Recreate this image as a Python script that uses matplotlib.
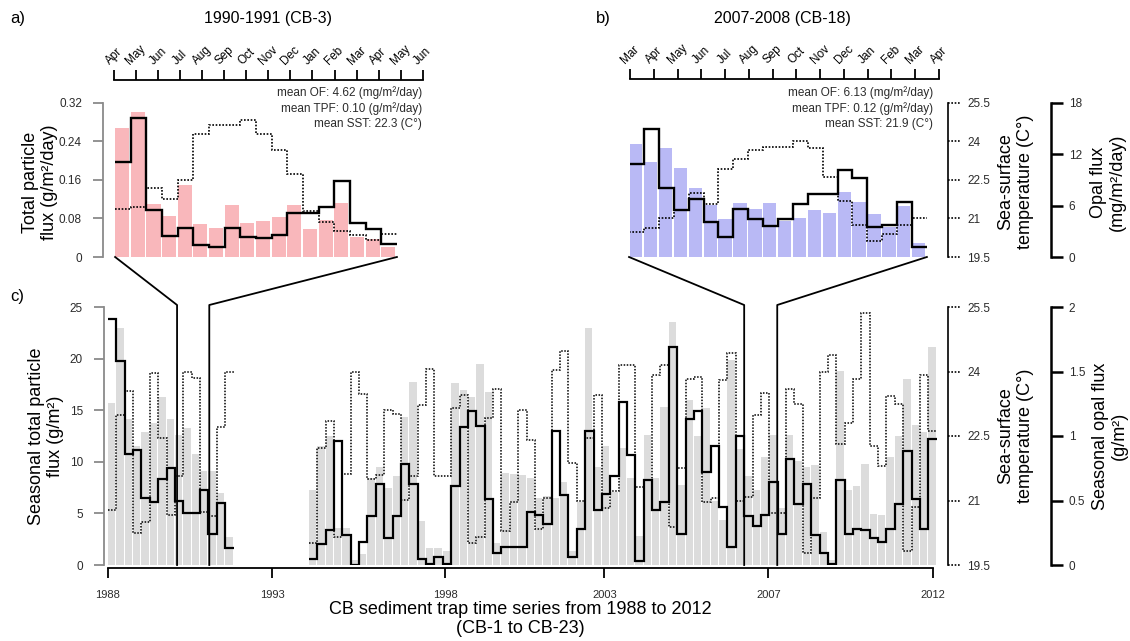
import numpy as np
import matplotlib
matplotlib.use('Agg')
import matplotlib.pyplot as plt
from matplotlib.lines import Line2D
from matplotlib.transforms import blended_transform_factory

plt.rcParams['font.family'] = ['Liberation Sans', 'DejaVu Sans']

# ---------------- data ----------------
# a) 1990-1991 (CB-3), one value per sampling cup
months_a = ['Apr', 'May', 'Jun', 'Jul', 'Aug', 'Sep', 'Oct', 'Nov', 'Dec',
            'Jan', 'Feb', 'Mar', 'Apr', 'May', 'Jun']
a_tpf = [0.268, 0.301, 0.109, 0.085, 0.149, 0.069, 0.061, 0.107, 0.071,
         0.074, 0.082, 0.107, 0.059, 0.076, 0.112, 0.042, 0.037, 0.020]
a_opal = [11.1, 16.2, 5.5, 2.45, 3.35, 1.4, 1.13, 3.35, 2.3, 2.18, 2.57,
          5.1, 5.1, 5.8, 8.9, 4.0, 3.23, 1.52]
a_sst = [21.35, 21.45, 22.2, 21.77, 22.49, 24.3, 24.65, 24.65, 24.83, 24.27,
         23.66, 22.72, 21.29, 20.86, 20.51, 20.35, 20.15, 20.38]

# b) 2007-2008 (CB-18)
months_b = ['Mar', 'Apr', 'May', 'Jun', 'Jul', 'Aug', 'Sep', 'Oct', 'Nov',
            'Dec', 'Jan', 'Feb', 'Mar', 'Apr']
b_tpf = [0.235, 0.198, 0.226, 0.184, 0.143, 0.107, 0.078, 0.113, 0.100, 0.111,
         0.074, 0.080, 0.097, 0.092, 0.135, 0.114, 0.090, 0.063, 0.106, 0.030]
b_opal = [10.9, 14.9, 8.1, 5.5, 6.8, 4.05, 2.3, 5.55, 4.43, 3.65, 4.43, 6.15,
          7.4, 7.3, 10.15, 9.25, 3.55, 3.73, 6.45, 1.2]
b_sst = [20.47, 20.63, 21.0, 21.32, 21.97, 21.58, 22.92, 23.33, 23.66, 23.79,
         23.79, 24.0, 23.72, 22.62, 21.67, 20.73, 20.11, 20.41, 20.73, 21.02]

# c) seasonal series 1988-2012, None = no trap data
gap = [None] * 9
c_tpf = ([15.7, 23.0, 14.1, 11.5, 12.9, 13.8, 16.3, 14.1, 12.6, 13.3, 10.8, 9.1, 9.1, 7.0, 2.75]
         + gap +
         [7.3, 11.5, 12.5, 3.6, 3.6, 0.5, 1.1, 8.4, 9.5, 7.5,
          8.6, 14.3, 17.7, 4.3, 1.6, 1.6, 1.4, 17.6, 17.0, 16.3,
          19.5, 16.8, 2.1, 8.9, 8.8, 8.7, 8.4, 6.5, 6.7, 6.5,
          8.0, 1.4, 6.1, 23.0, 9.5, 11.5, 7.1, 11.3, 8.4, 2.8,
          12.6, 8.4, 15.3, 23.5, 7.8, 16.0, 12.5, 15.2, 6.2, 4.4,
          19.9, 11.2, 8.6, 7.3, 10.5, 12.6, 5.5, 12.6, 10.1, 9.5,
          9.7, 3.2, 0.5, 18.8, 7.3, 7.7, 9.8, 4.95, 4.85, 10.5,
          12.5, 18.0, 13.6, 12.9, 21.1])
c_opal = ([1.91, 1.58, 0.86, 0.89, 0.52, 0.49, 0.67, 0.75, 0.50, 0.40, 0.40, 0.58, 0.24, 0.48, 0.13]
          + gap +
          [0.05, 0.16, 0.27, 0.96, 0.23, 0.0, 0.18, 0.38, 0.63, 0.21,
           0.38, 0.78, 0.63, 0.05, 0.01, 0.06, 0.01, 0.61, 1.07, 1.19,
           1.08, 0.51, 0.09, 0.14, 0.14, 0.14, 0.41, 0.39, 0.32, 1.04,
           0.54, 0.06, 0.28, 1.04, 0.43, 0.55, 0.69, 1.26, 0.85, 0.03,
           0.66, 0.43, 0.49, 1.69, 0.24, 1.13, 1.19, 0.72, 0.92, 0.45,
           0.14, 1.00, 0.38, 0.30, 0.39, 0.64, 0.24, 0.82, 0.47, 0.63,
           0.23, 0.09, 0.01, 0.66, 0.24, 0.28, 0.27, 0.21, 0.18, 0.28,
           0.47, 0.88, 0.51, 0.28, 0.98])
c_sst = ([20.78, 22.99, 23.55, 20.24, 20.51, 23.97, 22.45, 20.67, 21.56, 24.0, 23.85, 20.74, 20.63, 22.72, 23.98]
         + gap +
         [20.01, 22.22, 22.86, 20.16, 21.61, 24.0, 23.48, 21.49, 21.6, 23.1,
          23.02, 21.01, 21.56, 23.23, 24.06, 21.56, 21.56, 23.15, 23.46, 20.01,
          20.16, 22.92, 23.59, 20.28, 20.97, 23.11, 22.41, 20.33, 21.05, 24.04,
          24.47, 21.87, 21.0, 22.45, 23.46, 20.82, 21.21, 24.14, 24.14, 21.31,
          21.48, 23.93, 24.14, 20.39, 21.75, 23.83, 23.87, 20.96, 21.05, 23.8,
          24.43, 20.99, 21.08, 23.0, 23.49, 20.72, 20.72, 23.6, 23.24, 19.79,
          21.05, 24.0, 24.39, 22.32, 22.8, 23.83, 25.35, 22.26, 21.81, 23.42,
          23.24, 19.82, 20.85, 23.93, 22.61])
year_labels = ['1988', '1993', '1998', '2003', '2007', '2012']
year_pos = [0, 19.6, 40.3, 59.3, 78.9, 98.6]   # season index of each label
zoom_a = (8.25, 12.1)    # seasons shown in panel a
zoom_b = (76.0, 79.95)   # seasons shown in panel b

# ---------------- figure ----------------
W, H = 1130, 641
PT = 0.72  # points per pixel (dpi 100)
fig = plt.figure(figsize=(W / 100, H / 100), dpi=100)

GREY = '#8a8a8a'
TXT = '#2b2b2b'
DOT = (0, (1, 1))
TICK_FS = 8.5


def px_axes(x0, y0, x1, y1):
    return fig.add_axes([x0 / W, 1 - y1 / H, (x1 - x0) / W, (y1 - y0) / H])


def twin(ax, lim):
    t = ax.twinx()
    t.set_ylim(*lim)
    for s in t.spines.values():
        s.set_visible(False)
    t.tick_params(axis='both', which='both', left=False, right=False, top=False,
                  bottom=False, labelleft=False, labelright=False,
                  labeltop=False, labelbottom=False)
    return t


def hide(ax, sides):
    for s in sides:
        ax.spines[s].set_visible(False)


def left_axis(ax, ticks, labels, off):
    ax.spines['left'].set_position(('outward', off * PT))
    ax.spines['left'].set_color(GREY)
    ax.spines['left'].set_linewidth(1.3)
    ax.set_yticks(ticks)
    ax.set_yticklabels(labels)
    ax.tick_params(axis='y', direction='out', length=10 * PT, width=1.3,
                   color=GREY, labelcolor=TXT, labelsize=TICK_FS, pad=8)


def sst_axis(t, width_px, off, ticks, labels):
    sp = t.spines['right']
    sp.set_visible(True)
    sp.set_position(('outward', off * PT))
    sp.set_linestyle(DOT)
    sp.set_linewidth(1.2)
    t.set_yticks(ticks)
    t.set_yticklabels(labels)
    t.tick_params(axis='y', right=True, labelright=True, length=0,
                  pad=19 * PT, labelsize=TICK_FS, labelcolor=TXT)
    tr = blended_transform_factory(t.transAxes, t.transData)
    for v in ticks:
        t.plot([1 + off / width_px, 1 + (off + 12) / width_px], [v, v],
               transform=tr, color='k', lw=1.2, ls=DOT, clip_on=False)


def opal_axis(t, off, ticks, labels):
    sp = t.spines['right']
    sp.set_visible(True)
    sp.set_position(('outward', off * PT))
    sp.set_linewidth(1.8)
    t.set_yticks(ticks)
    t.set_yticklabels(labels)
    t.tick_params(axis='y', right=True, labelright=True, direction='out',
                  length=12 * PT, width=1.8, pad=4, labelsize=TICK_FS, labelcolor=TXT)


def month_axis(ax, labels, off):
    ax.spines['top'].set_position(('outward', off * PT))
    ax.spines['top'].set_linewidth(1.3)
    ax.xaxis.set_ticks_position('top')
    ax.set_xticks(range(len(labels)))
    ax.set_xticklabels(labels)
    ax.tick_params(axis='x', top=True, bottom=False, labeltop=True,
                   labelbottom=False, direction='out', length=10 * PT,
                   width=1.3, pad=2, labelsize=8.5, labelrotation=45)


def cup_panel(ax, span, tpf, opal, sst, color):
    edges = np.linspace(span[0], span[1], len(tpf) + 1)
    step = edges[1] - edges[0]
    ax.bar(edges[:-1], tpf, width=step * 0.9, align='edge', color=color, lw=0)
    t_op = twin(ax, (0, 18))
    t_op.stairs(opal, edges, color='k', lw=1.7, baseline=None)
    t_sst = twin(ax, (19.5, 25.5))
    t_sst.stairs(sst, edges, color='k', lw=1.2, ls=DOT, baseline=None)
    return edges, t_op, t_sst


def runs(vals):
    out, start = [], None
    for i, v in enumerate(vals + [None]):
        if v is not None and start is None:
            start = i
        elif v is None and start is not None:
            out.append((start, vals[start:i]))
            start = None
    return out


# ---- panel a
axa = px_axes(114, 102.7, 422.7, 257)
axa.set_xlim(0, 14)
axa.set_ylim(0, 0.32)
edges_a, _, _ = cup_panel(axa, (0.05, 12.83), a_tpf, a_opal, a_sst, '#f9b7bb')
hide(axa, ['right', 'bottom'])
left_axis(axa, [0, 0.08, 0.16, 0.24, 0.32], ['0', '0.08', '0.16', '0.24', '0.32'], 11)
month_axis(axa, months_a, 22.5)

# ---- panel b
axb = px_axes(630, 102.7, 939, 257)
axb.set_xlim(0, 13)
axb.set_ylim(0, 0.32)
edges_b, tb_op, tb_sst = cup_panel(axb, (-0.04, 12.49), b_tpf, b_opal, b_sst, '#b9b9f5')
hide(axb, ['right', 'bottom', 'left'])
axb.tick_params(axis='y', left=False, labelleft=False)
month_axis(axb, months_b, 23.5)
sst_axis(tb_sst, 309, 9, [19.5, 21, 22.5, 24, 25.5], ['19.5', '21', '22.5', '24', '25.5'])
opal_axis(tb_op, 112, [0, 6, 12, 18], ['0', '6', '12', '18'])

# ---- panel c
axc = px_axes(108, 307, 936.7, 565)
n = len(c_tpf)
axc.set_xlim(0, n)
axc.set_ylim(0, 25)
xs = [i for i, v in enumerate(c_tpf) if v is not None]
axc.bar(xs, [c_tpf[i] for i in xs], width=0.88, align='edge', color='#dcdcdc', lw=0)
tc_op = twin(axc, (0, 2))
tc_sst = twin(axc, (19.5, 25.5))
for s, seg in runs(c_opal):
    tc_op.stairs(seg, np.arange(s, s + len(seg) + 1), color='k', lw=1.6, baseline=None)
for s, seg in runs(c_sst):
    tc_sst.stairs(seg, np.arange(s, s + len(seg) + 1), color='k', lw=1.1, ls=DOT, baseline=None)
hide(axc, ['right', 'top'])
left_axis(axc, [0, 5, 10, 15, 20, 25], ['0', '5', '10', '15', '20', '25'], 4)
axc.spines['bottom'].set_position(('outward', 3 * PT))
axc.spines['bottom'].set_bounds(year_pos[0], year_pos[-1])
axc.spines['bottom'].set_linewidth(1.3)
axc.set_xticks(year_pos)
axc.set_xticklabels(year_labels)
axc.tick_params(axis='x', direction='out', length=10 * PT, width=1.3,
                labelsize=8, pad=9, labelcolor=TXT)
sst_axis(tc_sst, 828.7, 11.3, [19.5, 21, 22.5, 24, 25.5], ['19.5', '21', '22.5', '24', '25.5'])
opal_axis(tc_op, 114.3, [0, 0.5, 1, 1.5, 2], ['0', '0.5', '1', '1.5', '2'])

# ---- connectors from the bottom series to the zoomed panels
inv = fig.transFigure.inverted()


def connector(ax_top, x_top, x_bot):
    p0 = ax_top.transData.transform((x_top, 0))
    p1 = axc.transData.transform((x_bot, 25)) + np.array([0, 2])
    p2 = axc.transData.transform((x_bot, 0))
    pts = inv.transform(np.array([p0, p1, p2]))
    fig.add_artist(Line2D(pts[:, 0], pts[:, 1], color='k', lw=1.3))


connector(axa, edges_a[0], zoom_a[0])
connector(axa, edges_a[-1], zoom_a[1])
connector(axb, edges_b[0], zoom_b[0])
connector(axb, edges_b[-1], zoom_b[1])


# ---- texts
def ftext(x, y, s, **kw):
    fig.text(x / W, 1 - y / H, s, **kw)


ftext(10, 18, 'a)', fontsize=12, va='center')
ftext(596, 18, 'b)', fontsize=12, va='center')
ftext(10, 296, 'c)', fontsize=12, va='center')
ftext(268, 18, '1990-1991 (CB-3)', fontsize=11.5, ha='center', va='center')
ftext(782, 18, '2007-2008 (CB-18)', fontsize=11.5, ha='center', va='center')

for x, lines in [(422, ['mean OF: 4.62 (mg/m²/day)', 'mean TPF: 0.10 (g/m²/day)', 'mean SST: 22.3 (C°)']),
                 (933, ['mean OF: 6.13 (mg/m²/day)', 'mean TPF: 0.12 (g/m²/day)', 'mean SST: 21.9 (C°)'])]:
    for y, s in zip([93, 109, 124], lines):
        ftext(x, y, s, fontsize=8.5, ha='right', va='center', color=TXT)

lab = dict(fontsize=13, rotation=90, ha='center', va='center', multialignment='center')
ftext(40, 182, 'Total particle\nflux (g/m²/day)', **lab)
ftext(1016, 182, 'Sea-surface\ntemperature (C°)', **lab)
ftext(1108, 182, 'Opal flux\n(mg/m²/day)', **lab)
ftext(46, 436, 'Seasonal total particle\nflux (g/m²)', **lab)
ftext(1016, 436, 'Sea-surface\ntemperature (C°)', **lab)
ftext(1110, 436, 'Seasonal opal flux\n(g/m²)', **lab)
ftext(520, 619, 'CB sediment trap time series from 1988 to 2012\n(CB-1 to CB-23)',
      fontsize=13, ha='center', va='center', multialignment='center', linespacing=1.15)

fig.savefig('out.png', dpi=100)
